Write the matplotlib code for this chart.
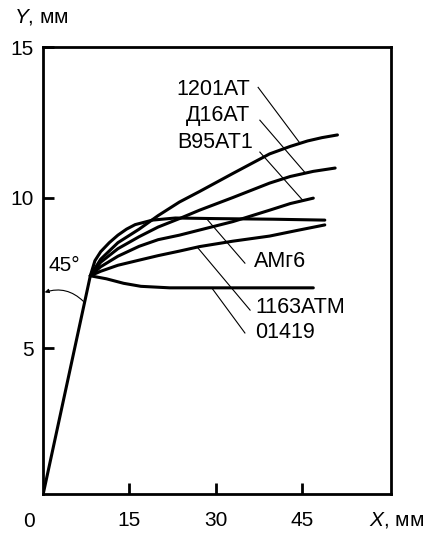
import matplotlib.pyplot as plt

plt.rcParams['font.family'] = ['Liberation Sans', 'DejaVu Sans']
plt.rcParams['mathtext.fontset'] = 'custom'
plt.rcParams['mathtext.it'] = 'Liberation Sans:italic'
plt.rcParams['mathtext.rm'] = 'Liberation Sans'

# Elastic part, common to all alloys
ELASTIC_X = [0.0, 8.2]
ELASTIC_Y = [0.15, 7.4]

ALLOYS = ['1201АТ', 'Д16АТ', 'В95АТ1', 'АМг6', '1163АТМ', '01419']

CURVE_X = {
    '1201АТ': [8.2, 10, 13, 16.7, 20, 23.7, 27.2, 33, 39.4, 43, 46, 48.5, 51.2],
    'Д16АТ': [8.2, 10, 13, 16.7, 20, 23.7, 27.2, 33, 39.4, 43, 47, 50.8],
    'В95АТ1': [8.2, 10, 13, 16.7, 20, 23.7, 27.2, 33, 39.4, 43, 47.0],
    'АМг6': [8.2, 9, 10, 11.5, 13, 14.5, 16, 19, 23, 30, 40, 49.0],
    '1163АТМ': [8.2, 10, 13, 16.7, 20, 23.7, 27.2, 33, 39.4, 44, 49.0],
    '01419': [8.2, 11, 14, 17, 22, 30, 40, 47.0],
}
CURVE_Y = {
    '1201АТ': [7.4, 7.95, 8.5, 8.95, 9.4, 9.85, 10.2, 10.8, 11.45, 11.7, 11.88, 11.99, 12.08],
    'Д16АТ': [7.4, 7.85, 8.3, 8.7, 9.02, 9.3, 9.58, 10.0, 10.48, 10.7, 10.87, 10.98],
    'В95АТ1': [7.4, 7.7, 8.05, 8.38, 8.6, 8.75, 8.92, 9.2, 9.58, 9.8, 9.98],
    'АМг6': [7.4, 7.9, 8.2, 8.5, 8.75, 8.95, 9.1, 9.25, 9.32, 9.3, 9.28, 9.25],
    '1163АТМ': [7.4, 7.55, 7.75, 7.92, 8.07, 8.22, 8.37, 8.55, 8.72, 8.9, 9.09],
    '01419': [7.4, 7.3, 7.15, 7.05, 7.0, 7.0, 7.0, 7.0],
}

# label text position (x, y) and leader line (x0, y0) -> (x1, y1)
LABEL_POS = {
    '1201АТ': (36.0, 13.6), 'Д16АТ': (36.0, 12.74), 'В95АТ1': (36.5, 11.84),
    'АМг6': (36.6, 7.86), '1163АТМ': (36.9, 6.33), '01419': (36.9, 5.5),
}
LABEL_HA = {
    '1201АТ': 'right', 'Д16АТ': 'right', 'В95АТ1': 'right',
    'АМг6': 'left', '1163АТМ': 'left', '01419': 'left',
}
LEADERS = {
    '1201АТ': ((37.4, 13.66), (44.7, 11.8)),
    'Д16АТ': ((37.7, 12.57), (45.6, 10.82)),
    'В95АТ1': ((37.7, 11.51), (45.2, 9.9)),
    'АМг6': ((28.5, 9.28), (35.1, 7.82)),
    '1163АТМ': ((26.9, 8.33), (36.0, 6.26)),
    '01419': ((29.4, 6.98), (35.1, 5.5)),
}

fig = plt.figure(figsize=(4.35, 5.34), dpi=100)
ax = fig.add_axes([0.0993, 0.0749, 0.7993, 0.837])

ax.plot(ELASTIC_X, ELASTIC_Y, color='black', lw=2.2, solid_capstyle='round')
for name in ALLOYS:
    ax.plot(CURVE_X[name], CURVE_Y[name], color='black', lw=2.2,
            solid_joinstyle='round', solid_capstyle='round')
    (x0, y0), (x1, y1) = LEADERS[name]
    ax.plot([x0, x1], [y0, y1], color='black', lw=0.8)
    tx, ty = LABEL_POS[name]
    ax.text(tx, ty, name, fontsize=15.5, ha=LABEL_HA[name], va='center')

# angle mark near the y axis
ax.annotate('', xy=(0.25, 6.85), xytext=(7.0, 6.55),
            arrowprops=dict(arrowstyle='-|>', connectionstyle='arc3,rad=0.3',
                            lw=0.8, color='black', mutation_scale=6,
                            shrinkA=0, shrinkB=0))
ax.text(1.0, 7.75, '45°', fontsize=15, ha='left', va='center')

ax.set_xlim(0, 60.5)
ax.set_ylim(0.15, 15)
ax.set_xticks([15, 30, 45])
ax.set_yticks([5, 10, 15])
ax.tick_params(direction='in', length=8, width=2, labelsize=15, color='black')
ax.tick_params(axis='x', pad=12)
ax.tick_params(axis='y', pad=7)
for sp in ax.spines.values():
    sp.set_linewidth(2)

ax.text(-2.5, -0.75, '0', fontsize=15, ha='center', va='center', clip_on=False)
fig.text(369 / 435, 1 - 520 / 534, r'$\it{X}$, мм', fontsize=15, ha='left', va='center')
fig.text(14 / 435, 1 - 17 / 534, r'$\it{Y}$, мм', fontsize=15, ha='left', va='center')

fig.savefig('out.png', dpi=100)
